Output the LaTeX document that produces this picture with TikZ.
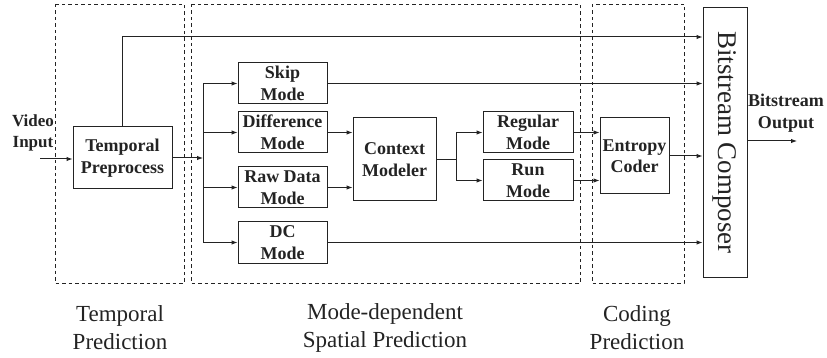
\documentclass[tikz,border=0pt]{standalone}
\usepackage{fontspec}
\setmainfont{Liberation Serif}
\usepackage{graphicx}
\usetikzlibrary{positioning,arrows.meta,calc}
\definecolor{vcLine}{RGB}{35,35,35}
\tikzset{
    base/.style={font=\bfseries\fontsize{18}{21.5}\selectfont, align=center, text=vcLine},
    block/.style={base, rectangle, draw=vcLine, line width=1pt, inner sep=0pt,
                  minimum width=89pt, minimum height=41pt},
    region/.style={draw=vcLine, line width=0.9pt, dash pattern=on 3.5pt off 3pt},
    flow/.style={-{Latex[length=6pt,width=4.5pt]}, line width=1pt, color=vcLine},
    wire/.style={line width=1pt, color=vcLine},
    caption/.style={font=\fontsize{23}{28}\selectfont, align=center, text=vcLine}
}

\begin{document}
\begin{tikzpicture}[x=1pt,y=-1pt]
  \useasboundingbox (0,0) rectangle (827,358);

  % Prediction regions
  \draw[region] (55,4) rectangle (184,283);
  \draw[region] (191,4) rectangle (580,283);
  \draw[region] (592,4) rectangle (684,283);

  % Blocks
  \node[block, minimum width=99pt, minimum height=62pt] (tp) at (122.5,158) {Temporal\\Preprocess};
  \node[block] (skip) at (282.5,83.5) {Skip\\Mode};
  \node[block] (diff) at (282.5,132.5) {Difference\\Mode};
  \node[block] (raw) at (282.5,187.5) {Raw Data\\Mode};
  \node[block] (dc) at (282.5,242.5) {DC\\Mode};
  \node[block, minimum width=83pt, minimum height=83pt] (ctx) at (394.5,159.5) {Context\\Modeler};
  \node[block, minimum width=90pt] (reg) at (528,132.5) {Regular\\Mode};
  \node[block, minimum width=90pt] (run) at (528,180.5) {Run\\Mode};
  \node[block, minimum width=69pt, minimum height=76pt] (ent) at (634.5,156) {Entropy\\Coder};
  \node[block, minimum width=44pt, minimum height=269pt,
        font=\fontsize{27}{30}\selectfont] (comp) at (725,142.5) {\rotatebox{-90}{Bitstream Composer}};

  % Input and output
  \node[base, font=\bfseries\fontsize{17}{21.5}\selectfont] (vin) at (33,133) {Video\\Input};
  \node[base] (vout) at (786,113) {Bitstream\\Output};
  \coordinate (vinend) at (40,159);
  \coordinate (voutend) at (797,141);

  % Branch points
  \coordinate (topy) at (0,37);
  \coordinate (sp) at (203,0);
  \coordinate (sp2) at (456,0);

  % Connectors
  \draw[flow] (vinend) -- (vinend -| tp.west);
  \draw[flow] (tp.north) |- (topy -| comp.west);
  \draw[flow] (tp.east) -- (tp.east -| sp);
  \draw[wire] (sp |- skip) -- (sp |- dc);
  \foreach \b in {skip,diff,raw,dc}
    \draw[flow] (sp |- \b.west) -- (\b.west);
  \draw[flow] (diff.east) -- (diff.east -| ctx.west);
  \draw[flow] (raw.east) -- (raw.east -| ctx.west);
  \draw[wire] (ctx.east) -- (ctx.east -| sp2);
  \draw[wire] (sp2 |- reg) -- (sp2 |- run);
  \draw[flow] (sp2 |- reg.west) -- (reg.west);
  \draw[flow] (sp2 |- run.west) -- (run.west);
  \draw[flow] (reg.east) -- (reg.east -| ent.west);
  \draw[flow] (run.east) -- (run.east -| ent.west);
  \draw[flow] (ent.east) -- (ent.east -| comp.west);
  \draw[flow] (skip.east) -- (skip.east -| comp.west);
  \draw[flow] (dc.east) -- (dc.east -| comp.west);
  \draw[flow] (comp.east |- voutend) -- (voutend);

  % Captions
  \node[caption] (captemp) at (120,328) {Temporal\\Prediction};
  \node[caption] (capmode) at (385,328) {Mode-dependent\\Spatial Prediction};
  \node[caption] (capcode) at (637,328) {Coding\\Prediction};
\end{tikzpicture}
\end{document}
